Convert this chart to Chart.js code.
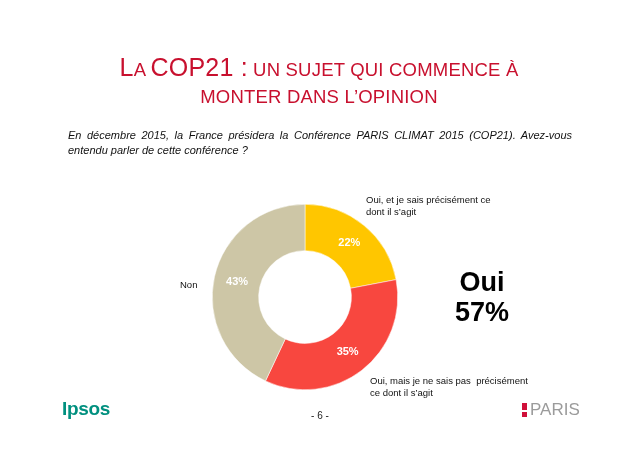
<!DOCTYPE html>
<html>
<head>
<meta charset="utf-8">
<script src="https://cdn.jsdelivr.net/npm/chart.js@4"></script>
<style>
  html, body { margin: 0; padding: 0; background: #fff; }
  #page { position: relative; width: 638px; height: 451px; overflow: hidden; font-family: "Liberation Sans", Arial, sans-serif; }
  #chart { position: absolute; left: 0; top: 0; }
  .t { position: absolute; white-space: nowrap; }
  .title { left: 0; width: 638px; text-align: center; color: #c8102e; font-size: 18.5px; letter-spacing: 0.2px; }
  .title .big { font-size: 25px; }
  .question { left: 68px; top: 128px; width: 504px; font-style: italic; font-size: 11px; line-height: 15px; text-align: justify; text-align-last: left; white-space: normal; color: #111; }
  .lbl { font-size: 9.5px; line-height: 12px; color: #111; }
  .oui { left: 430px; width: 104px; text-align: center; font-weight: bold; font-size: 27px; line-height: 31px; color: #000; }
  .ipsos { left: 62px; top: 398px; font-weight: bold; font-size: 19px; color: #00907f; letter-spacing: -0.3px; }
  .paris { left: 530px; top: 400px; font-size: 17px; color: #9b9b9b; }
  .bar { position: absolute; left: 522px; top: 403px; width: 5px; height: 14px; background: #d0103a; }
  .bar i { position: absolute; left: 0; top: 7px; width: 5px; height: 2px; background: #fff; }
  .pg { left: 300px; width: 40px; top: 410px; text-align: center; font-size: 10px; color: #222; }
</style>
</head>
<body>
<div id="page">
  <canvas id="chart" width="638" height="451"></canvas>
  <div class="t title" style="top:53px"><span class="big">L</span>A <span class="big">COP21 :</span> UN SUJET QUI COMMENCE À</div>
  <div class="t title" style="top:86px">MONTER DANS L’OPINION</div>
  <div class="t question">En décembre 2015, la France présidera la Conférence PARIS CLIMAT 2015 (COP21). Avez-vous entendu parler de cette conférence ?</div>
  <div class="t lbl" style="left:366px;top:194px">Oui, et je sais précisément ce<br>dont il s’agit</div>
  <div class="t lbl" style="left:180px;top:279px">Non</div>
  <div class="t lbl" style="left:370px;top:375px">Oui, mais je ne sais pas&nbsp; précisément<br>ce dont il s’agit</div>
  <div class="t oui" style="top:267px">Oui</div>
  <div class="t oui" style="top:297px">57%</div>
  <div class="t ipsos">Ipsos</div>
  <div class="bar"><i></i></div>
  <div class="t paris">PARIS</div>
  <div class="t pg">- 6 -</div>
</div>
<script>
var categories = ['Oui, et je sais précisément ce dont il s’agit', 'Oui, mais je ne sais pas précisément ce dont il s’agit', 'Non'];
var values = [22, 35, 43];
var colors = ['#ffc600', '#f8473f', '#cdc6a6'];

var pctLabels = {
    id: 'pctLabels',
    afterDatasetsDraw: function (chart) {
        var ctx = chart.ctx;
        var meta = chart.getDatasetMeta(0);
        ctx.save();
        ctx.fillStyle = '#fff';
        ctx.font = 'bold 11px "Liberation Sans", Arial, sans-serif';
        ctx.textAlign = 'center';
        ctx.textBaseline = 'middle';
        meta.data.forEach(function (arc, i) {
            var p = arc.tooltipPosition();
            ctx.fillText(values[i] + '%', p.x, p.y);
        });
        ctx.restore();
    }
};

new Chart(document.getElementById('chart').getContext('2d'), {
    type: 'doughnut',
    data: {
        labels: categories,
        datasets: [{
            data: values,
            backgroundColor: colors,
            borderColor: '#fff',
            borderWidth: 0.5
        }]
    },
    options: {
        responsive: false,
        animation: false,
        cutout: '50%',
        layout: { padding: { left: 212, right: 240, top: 204, bottom: 61 } },
        plugins: { legend: { display: false }, tooltip: { enabled: false } }
    },
    plugins: [pctLabels]
});
</script>
</body>
</html>
